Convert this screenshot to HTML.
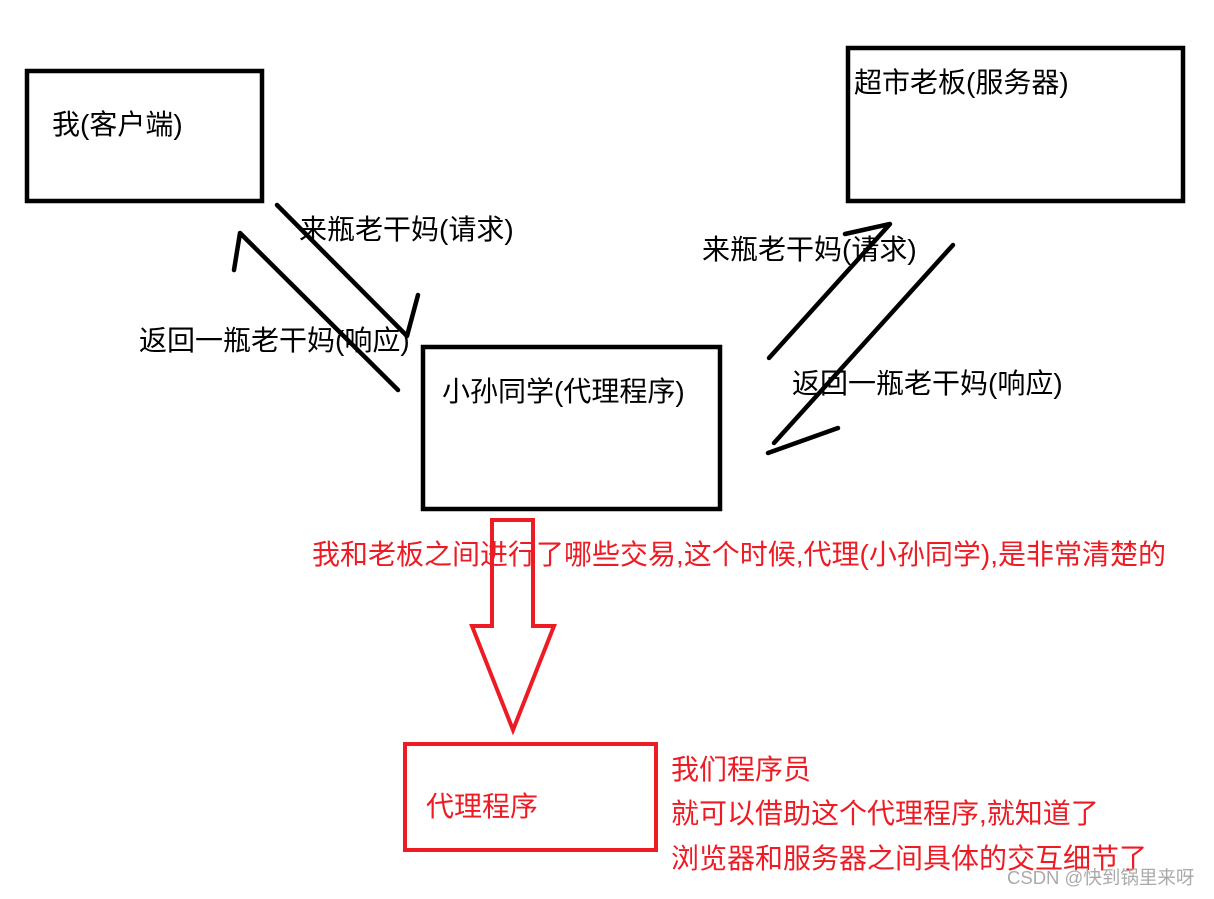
<!DOCTYPE html>
<html><head><meta charset="utf-8"><style>
html,body{margin:0;padding:0;background:#fff;width:1214px;height:899px;overflow:hidden;position:relative}
.t{position:absolute;font-family:"Liberation Sans","Microsoft YaHei","Noto Sans CJK SC",sans-serif;font-size:28px;line-height:32px;white-space:nowrap;color:#000}
.r{color:#ed1c24}
svg{position:absolute;left:0;top:0}
</style></head><body>
<div class="t" style="left:52px;top:109px">我(客户端)</div>
<div class="t" style="left:854px;top:67px">超市老板(服务器)</div>
<div class="t" style="left:299px;top:214px">来瓶老干妈(请求)</div>
<div class="t" style="left:139px;top:325px">返回一瓶老干妈(响应)</div>
<div class="t" style="left:702px;top:234px">来瓶老干妈(请求)</div>
<div class="t" style="left:792px;top:368px">返回一瓶老干妈(响应)</div>
<div class="t" style="left:442px;top:376px">小孙同学(代理程序)</div>
<div class="t r" style="left:312px;top:539px">我和老板之间进行了哪些交易,这个时候,代理(小孙同学),是非常清楚的</div>
<div class="t r" style="left:426px;top:791px">代理程序</div>
<div class="t r" style="left:671px;top:754px">我们程序员</div>
<div class="t r" style="left:671px;top:798px">就可以借助这个代理程序,就知道了</div>
<div class="t r" style="left:671px;top:843px">浏览器和服务器之间具体的交互细节了</div>
<div class="t" style="left:1007px;top:866px;font-size:18.5px;line-height:24px;color:#aaa">CSDN @快到锅里来呀</div>
<svg width="1214" height="899" fill="none" stroke="#000" stroke-width="4.5" stroke-linecap="round" stroke-linejoin="round">
<rect x="27" y="71" width="235" height="130" stroke-linecap="butt" stroke-linejoin="miter"/>
<rect x="848" y="48" width="335" height="153" stroke-linecap="butt" stroke-linejoin="miter"/>
<rect x="423" y="347" width="297" height="162" stroke-linecap="butt" stroke-linejoin="miter"/>
<path d="M277 205 L407 336 L418 295"/>
<path d="M398 390 L240 233 L234 270"/>
<path d="M769 358 L890 224 L845 234"/>
<path d="M953 245 L774 443"/>
<path d="M768 453 L838 428"/>
<g stroke="#ed1c24" stroke-width="4" stroke-linecap="butt" stroke-linejoin="miter">
<path d="M492 520 L533 520 L533 626 L554 626 L513 730 L472 626 L492 626 Z"/>
<rect x="405" y="744" width="251" height="106"/>
</g>
</svg>
</body></html>
